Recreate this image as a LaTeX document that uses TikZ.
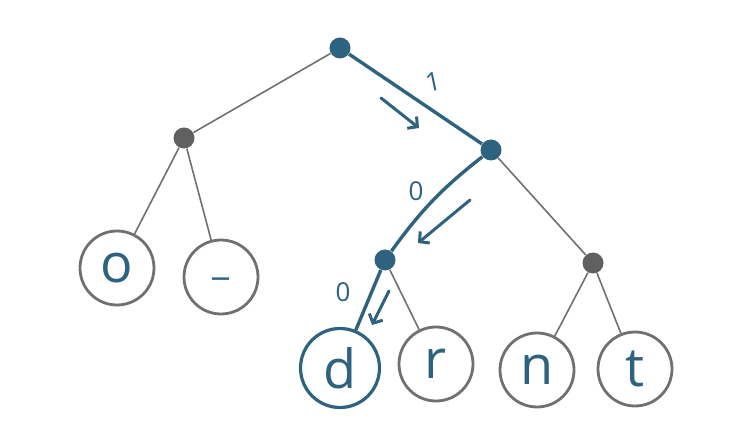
\documentclass[tikz,border=0pt]{standalone}
\usepackage{fontspec}
\setmainfont{Open Sans}
\usetikzlibrary{arrows.meta}

\definecolor{pathblue}{RGB}{46,99,128}
\definecolor{dotgray}{RGB}{96,96,96}
\definecolor{linegray}{RGB}{112,112,112}

\begin{document}
\begin{tikzpicture}[x=1pt,y=-1pt,thick]
    \tikzstyle{inner}=[circle,fill=dotgray,inner sep=0pt,minimum size=21pt]
    \tikzstyle{onpath}=[inner,fill=pathblue]
    \tikzstyle{leaf}=[circle,draw=linegray,line width=2.8pt,inner sep=0pt,minimum size=74pt,text=pathblue,font=\fontsize{54}{54}\selectfont]
    \tikzstyle{bit}=[text=pathblue,font=\fontsize{26}{26}\selectfont]
    \tikzstyle{walk}=[draw=pathblue,line width=3pt,line cap=round,-{Straight Barb[length=7pt,width=15pt]}]

    \useasboundingbox (0,0) rectangle (749,443);

    % inner nodes
    \node[onpath] (root) at (340,48) {};
    \node[inner]  (L)    at (184,138) {};
    \node[onpath] (R)    at (491,150) {};
    \node[onpath] (RL)   at (385,260) {};
    \node[inner]  (RR)   at (593,263) {};

    % leaves
    \node[leaf] (o)  at (117,268) {o};
    \node[leaf,font=\fontsize{38}{38}\selectfont] (us) at (221,277) {\_};
    \node[leaf,draw=pathblue,line width=3.2pt,minimum size=79pt] (d) at (340,368) {d};
    \node[leaf] (r)  at (436,364) {r};
    \node[leaf] (n)  at (537,370) {n};
    \node[leaf] (t)  at (635,369) {t};

    \path[draw=linegray,line width=1.6pt]
        (root) edge (L)
        (L)    edge (o)
               edge (us)
        (R)    edge (RR)
        (RL)   edge (r)
        (RR)   edge (n)
               edge (t);
    \path[draw=pathblue,line width=3.4pt]
        (root) edge (R)
        (R)    edge [bend right=8] (RL)
        (RL)   edge (d);

    % bits and walking arrows
    \node[bit,rotate=12] (b1) at (433,82) {1};
    \node[bit] (b2) at (416,191) {0};
    \node[bit] (b3) at (343,292) {0};
    \coordinate (a1s) at (381,98);
    \coordinate (a1e) at (419,128);
    \coordinate (a2s) at (470,200);
    \coordinate (a2e) at (418,243);
    \coordinate (a3s) at (389,291);
    \coordinate (a3e) at (372,325);
    \draw[walk] (a1s) -- (a1e);
    \draw[walk] (a2s) -- (a2e);
    \draw[walk] (a3s) -- (a3e);
\end{tikzpicture}
\end{document}
